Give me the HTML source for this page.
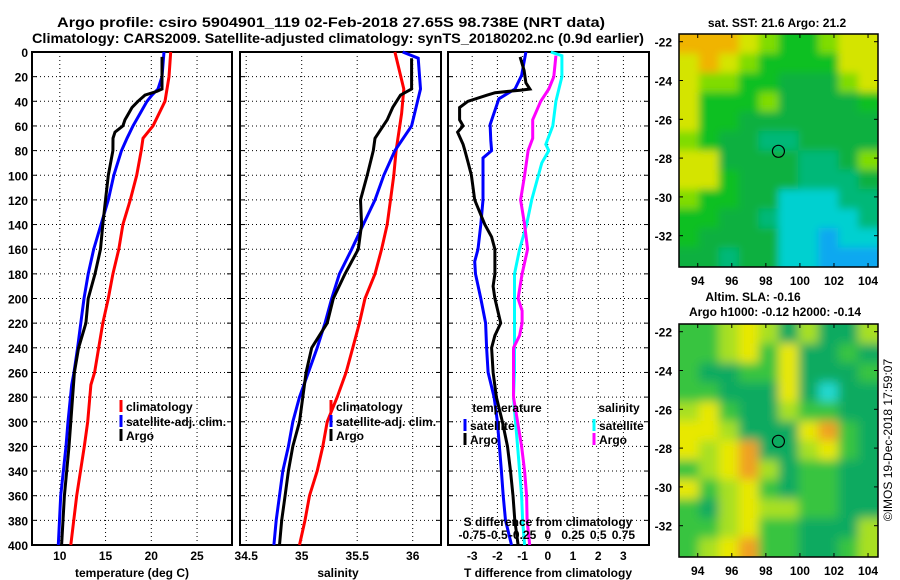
<!DOCTYPE html>
<html><head><meta charset="utf-8">
<style>
html,body{margin:0;padding:0;background:#fff;}
svg{display:block;font-family:"Liberation Sans",Arial,sans-serif;font-weight:bold;}
</style></head>
<body>
<svg id="chart" width="900" height="580" viewBox="0 0 900 580">
<defs>
<filter id="blurS" x="-5%" y="-5%" width="110%" height="110%"><feGaussianBlur stdDeviation="5"/></filter>
<filter id="blurT" x="-5%" y="-5%" width="110%" height="110%"><feGaussianBlur stdDeviation="4"/></filter>
<clipPath id="clipTop"><rect x="679" y="34" width="199" height="233"/></clipPath>
<clipPath id="clipBot"><rect x="679" y="324" width="199" height="233"/></clipPath>
</defs>
<text x="57" y="27" font-size="14" textLength="548" lengthAdjust="spacingAndGlyphs">Argo profile: csiro 5904901_119 02-Feb-2018 27.65S 98.738E (NRT data)</text>
<text x="32" y="43" font-size="14" textLength="612" lengthAdjust="spacingAndGlyphs">Climatology: CARS2009. Satellite-adjusted climatology: synTS_20180202.nc (0.9d earlier)</text>
<g id="plots"></g>
</svg>
<script>
// ---------- data ----------
const depthTicks = [0,20,40,60,80,100,120,140,160,180,200,220,240,260,280,300,320,340,360,380,400];
// Panel 1: temperature
const tempTicks = [10,15,20,25];
const tClimDepth = [0,20,40,60,70,80,100,120,140,160,180,200,220,240,260,270,300,320,360,400];
const tClimVal   = [22.12,21.93,21.5,20.19,19.09,18.9,18.4,17.7,16.9,16.45,15.8,15.3,14.7,14.25,13.8,13.4,13.05,12.68,11.85,11.2];
const tSatDepth  = [0,20,30,35,40,50,60,70,80,100,120,140,160,180,200,220,240,260,270,300,320,360,400];
const tSatVal    = [21.39,21.17,20.73,20.08,19.53,18.77,18.0,17.34,16.74,15.9,15.3,14.5,13.7,13.1,12.65,12.3,11.95,11.55,11.3,10.9,10.68,10.1,9.84];
const tArgoDepth = [4,30,32,35,40,45,55,60,65,70,80,100,120,140,160,180,200,220,240,260,270,300,320,360,400];
const tArgoVal   = [21.17,21.17,20.6,19.31,18.55,17.89,17.13,16.9,16.03,15.81,15.8,15.3,15.0,14.7,14.45,13.85,13.1,12.85,12.05,11.6,11.5,11.2,11.0,10.5,10.2];
// Panel 2: salinity
const salTicks = [34.5,35,35.5,36];
const sClimDepth = [0,30,50,80,100,120,140,160,180,200,220,240,260,280,300,320,340,360,380,400];
const sClimVal   = [35.84,35.92,35.90,35.85,35.83,35.80,35.77,35.72,35.66,35.57,35.52,35.46,35.40,35.32,35.23,35.19,35.14,35.07,35.03,34.98];
const sSatDepth  = [0,5,30,60,80,100,120,140,160,180,200,220,240,260,280,300,320,340,360,380,400];
const sSatVal    = [35.91,36.05,36.07,35.99,35.84,35.74,35.66,35.555,35.45,35.34,35.27,35.21,35.14,35.06,34.98,34.92,34.88,34.83,34.80,34.77,34.75];
const sArgoDepth = [5,30,35,45,55,70,80,100,120,140,160,180,200,220,240,260,280,300,320,340,360,380,400];
const sArgoVal   = [35.99,35.99,35.89,35.82,35.77,35.66,35.645,35.59,35.53,35.54,35.51,35.39,35.285,35.23,35.09,35.04,35.01,34.98,34.92,34.88,34.85,34.82,34.80];
// Panel 3: differences
const dtTicks = [-3,-2,-1,0,1,2,3];
const dsTicks = ["-0.75","-0.5","-0.25","0","0.25","0.5","0.75"];
const dsTickVals = [-0.75,-0.5,-0.25,0,0.25,0.5,0.75];
const dTSatDepth = [0,19,30,38,59,72,80,86,120,140,160,170,180,200,220,240,260,280,300,320,340,360,380,400];
const dTSatVal   = [-0.87,-1.04,-1.3,-1.94,-2.29,-2.26,-2.23,-2.57,-2.57,-2.66,-2.77,-2.9,-2.87,-2.66,-2.47,-2.43,-2.37,-2.13,-2.0,-1.92,-1.84,-1.77,-1.68,-1.44];
const dTArgoDepth= [4,15,25,30,31,33,35,40,45,55,60,65,75,80,90,100,120,140,150,160,180,190,200,220,230,240,260,280,300,320,340,360,380,400];
const dTArgoVal  = [-1.1,-0.94,-0.87,-0.71,-1.1,-2.09,-2.4,-3.17,-3.5,-3.5,-3.36,-3.58,-3.36,-3.29,-3.16,-3.03,-2.9,-2.5,-2.23,-2.1,-2.1,-2.17,-2.1,-1.87,-2.1,-2.23,-2.17,-2.04,-1.8,-1.6,-1.48,-1.38,-1.31,-1.18];
const dSSatDepth = [0,3,20,40,60,75,80,90,120,140,160,180,200,220,240,260,280,300,320,340,360,380,400];
const dSSatVal   = [0.03,0.14,0.14,0.08,0.05,-0.02,0.01,-0.06,-0.16,-0.21,-0.28,-0.33,-0.33,-0.33,-0.33,-0.33,-0.34,-0.32,-0.30,-0.28,-0.26,-0.25,-0.23];
const dSArgoDepth= [3,20,30,40,55,70,80,100,120,140,160,180,200,210,220,230,240,260,280,300,320,340,360,380,400];
const dSArgoVal  = [0.08,0.06,0.01,-0.07,-0.15,-0.15,-0.195,-0.23,-0.27,-0.23,-0.2,-0.255,-0.295,-0.255,-0.255,-0.28,-0.34,-0.34,-0.34,-0.30,-0.26,-0.23,-0.21,-0.205,-0.18];
// Maps
const lonTicks = [94,96,98,100,102,104];
const latTicks = [-22,-24,-26,-28,-30,-32];
const sstGrid = [
"OOOYLGGLYY","YOYLGGGGYY","YLLGGDDDLY","YGGGLDDDDG","YGGDDDDDDD","LGDDTTDDDD",
"YYDDDDTTDL","YYGDDDTTTD","LGGDDCCCTT","GGDDTCCCCT","GDDDDCCBCC","DDTDDCCBBB"];
const slaGrid = [
"GGLYLDLDDL","GGLYGYDDGD","GDDGGYDDDG","GGDDDYDCDD","LYGDDLGGDD","YYLDDDYOGD",
"YLYODDLYGD","GLYOLDGGDD","YGLYGDGGDD","GDLYLLGGDD","GGLYGGDDDL","GLYOGGDDGL"];
const sstColors = {O:"#f0b400",Y:"#d4e400",L:"#80dc00",G:"#10c020",D:"#08b040",T:"#00b878",C:"#00d0d0",B:"#10a8f0"};
const slaColors = {O:"#f0a020",Y:"#e8e800",L:"#a8e020",G:"#38c440",D:"#10aa60",C:"#20d8d0"};
const argoLon = 98.738, argoLat = -27.65;

// ---------- helpers ----------
const NS = "http://www.w3.org/2000/svg";
const root = document.getElementById('plots');
function el(tag, attrs, parent){
  const e = document.createElementNS(NS, tag);
  for (const k in attrs) e.setAttribute(k, attrs[k]);
  (parent||root).appendChild(e); return e;
}
function txt(x,y,s,size,anchor,parent){
  const t = el('text',{x:x,y:y,'font-size':size,'text-anchor':anchor||'middle'},parent);
  t.textContent = s; return t;
}
const Y0 = 52, YPX = (545-52)/400;
const yD = d => Y0 + d*YPX;

function frame(name){
  const g = el('g',{});
  
  
  return g;
}
function gridAndBox(g,x0,x1,xs){
  depthTicks.forEach(d=>{
    if(d===0||d===400) return;
    const l = el('line',{x1:x0,x2:x1,y1:yD(d),y2:yD(d),stroke:'#000','stroke-width':1,'stroke-dasharray':'1,3'},g);
    
    
    el('line',{x1:x0,x2:x0+5,y1:yD(d),y2:yD(d),stroke:'#000','stroke-width':1},g);
    el('line',{x1:x1-5,x2:x1,y1:yD(d),y2:yD(d),stroke:'#000','stroke-width':1},g);
  });
  xs.forEach(x=>{
    const l = el('line',{x1:x,x2:x,y1:Y0,y2:545,stroke:'#000','stroke-width':1,'stroke-dasharray':'1,3'},g);
    
    
  });
  const r = el('rect',{x:x0,y:Y0,width:x1-x0,height:545-Y0,fill:'none',stroke:'#000','stroke-width':2},g);
  
  
}
function series(g,vals,depths,xf,color,name){
  const pts = vals.map((v,i)=>xf(v).toFixed(1)+','+yD(depths[i]).toFixed(1)).join(' ');
  const p = el('polyline',{points:pts,fill:'none',stroke:color,'stroke-width':3,'stroke-linejoin':'miter'},g);
  
  
}
function legendItem(g,mx,y,color,label,name){
  el('rect',{x:mx-1.5,y:y-7,width:3,height:12,fill:color},g);
  const t = txt(mx+5,y+4,label,12,'start',g);
  
  
}

// ---------- Panel 1 ----------
const xT = v => 59.8 + (v-10)*9.15;
const p1 = frame('temperature-panel');
gridAndBox(p1,32,232,tempTicks.map(xT));
depthTicks.forEach(d=>{
  const t = txt(28,yD(d)+5,String(d),12,'end',p1);
  
  
});
tempTicks.forEach(v=>{
  const t = txt(xT(v),560,String(v),12,'middle',p1);
  
  
});
const at1 = txt(132,577,'temperature (deg C)',12,'middle',p1);


series(p1,tClimVal,tClimDepth,xT,'#ff0000','temperature-climatology-line');
series(p1,tSatVal,tSatDepth,xT,'#0000ff','temperature-satellite-line');
series(p1,tArgoVal,tArgoDepth,xT,'#000000','temperature-argo-line');
legendItem(p1,121,407,'#ff0000','climatology','legend-climatology');
legendItem(p1,121,422,'#0000ff','satellite-adj. clim.','legend-satellite');
legendItem(p1,121,436,'#000000','Argo','legend-argo');

// ---------- Panel 2 ----------
const xS = v => 301.7 + (v-35)*111;
const p2 = frame('salinity-panel');
gridAndBox(p2,240,441,salTicks.map(xS));
salTicks.forEach(v=>{
  const t = txt(xS(v),560,String(v),12,'middle',p2);
  
  
});
const at2 = txt(338,577,'salinity',12,'middle',p2);


series(p2,sClimVal,sClimDepth,xS,'#ff0000','salinity-climatology-line');
series(p2,sSatVal,sSatDepth,xS,'#0000ff','salinity-satellite-line');
series(p2,sArgoVal,sArgoDepth,xS,'#000000','salinity-argo-line');
legendItem(p2,331,407,'#ff0000','climatology','legend-climatology');
legendItem(p2,331,422,'#0000ff','satellite-adj. clim.','legend-satellite');
legendItem(p2,331,436,'#000000','Argo','legend-argo');

// ---------- Panel 3 ----------
const xDT = v => 547.8 + v*25.2;
const xDS = v => 547.8 + v*100.8;
const p3 = frame('difference-panel');
gridAndBox(p3,448,649,dtTicks.map(xDT));
series(p3,dTSatVal,dTSatDepth,xDT,'#0000ff','t-diff-satellite-line');
series(p3,dTArgoVal,dTArgoDepth,xDT,'#000000','t-diff-argo-line');
series(p3,dSSatVal,dSSatDepth,xDS,'#00ffff','s-diff-satellite-line');
series(p3,dSArgoVal,dSArgoDepth,xDS,'#ff00ff','s-diff-argo-line');
dtTicks.forEach(v=>{
  const t = txt(xDT(v),560,String(v),12,'middle',p3);
  
  
});
dsTickVals.forEach((v,i)=>{
  const t = txt(xDS(v),539,dsTicks[i],12,'middle',p3);
  
  
});
const st = txt(548,526,'S difference from climatology',12,'middle',p3);


const tt = txt(548,577,'T difference from climatology',12,'middle',p3);


const lt = txt(507,412,'temperature',12,'middle',p3);


const ls = txt(619,412,'salinity',12,'middle',p3);


legendItem(p3,465,426,'#0000ff','satellite','legend-t-satellite');
legendItem(p3,465,440,'#000000','Argo','legend-t-argo');
legendItem(p3,594,426,'#00ffff','satellite','legend-s-satellite');
legendItem(p3,594,440,'#ff00ff','Argo','legend-s-argo');

// ---------- Maps ----------
function drawMap(top,grid,colors,blurId,clipId,name,labelY){
  const g = el('g',{});
  
  
  const x0=679,x1=878,y1=top+233;
  const lonX = lo => 679 + (lo-92.9)*17.03;
  const latY = la => top + 7.7 + (-22-la)*19.4;
  const cg = el('g',{'clip-path':'url(#'+clipId+')'},g);
  const ig = el('g',{filter:'url(#'+blurId+')'},cg);
  const rows = grid.length, cols = grid[0].length;
  const cw = (x1-x0)/cols, ch = 233/rows;
  for(let r=-1;r<=rows;r++) for(let c=-1;c<=cols;c++){
    const rr=Math.min(rows-1,Math.max(0,r)), cc=Math.min(cols-1,Math.max(0,c));
    const cell = el('rect',{x:x0+c*cw,y:top+r*ch,width:cw+0.6,height:ch+0.6,fill:colors[grid[rr][cc]]},ig);
    
    
  }
  el('rect',{x:x0,y:top,width:x1-x0,height:233,fill:'none',stroke:'#000','stroke-width':1.5},g);
  const circ = el('circle',{cx:lonX(argoLon),cy:latY(argoLat),r:6,fill:'none',stroke:'#000','stroke-width':1.2},g);
  
  
  latTicks.forEach(la=>{
    el('line',{x1:x0,x2:x0+4,y1:latY(la),y2:latY(la),stroke:'#000'},g);
    el('line',{x1:x1-4,x2:x1,y1:latY(la),y2:latY(la),stroke:'#000'},g);
    const t = txt(672,latY(la)+5,String(la),12,'end',g);
    
    
  });
  lonTicks.forEach(lo=>{
    el('line',{x1:lonX(lo),x2:lonX(lo),y1:top,y2:top+4,stroke:'#000'},g);
    el('line',{x1:lonX(lo),x2:lonX(lo),y1:y1-4,y2:y1,stroke:'#000'},g);
    const t = txt(lonX(lo),labelY,String(lo),12,'middle',g);
    
    
  });
}
drawMap(34,sstGrid,sstColors,'blurT','clipTop','sst-map',285);
drawMap(324,slaGrid,slaColors,'blurS','clipBot','sla-map',575);
const mt1 = txt(777,27,'sat. SST: 21.6 Argo: 21.2',12,'middle');


const mt2 = txt(753,301,'Altim. SLA: -0.16',12,'middle');


const mt3 = txt(775,316,'Argo h1000: -0.12 h2000: -0.14',12,'middle');


const im = txt(0,0,'©IMOS 19-Dec-2018 17:59:07',12,'middle');
im.setAttribute('transform','translate(892,440) rotate(-90)');
im.setAttribute('font-weight','normal');


</script>
</body></html>
